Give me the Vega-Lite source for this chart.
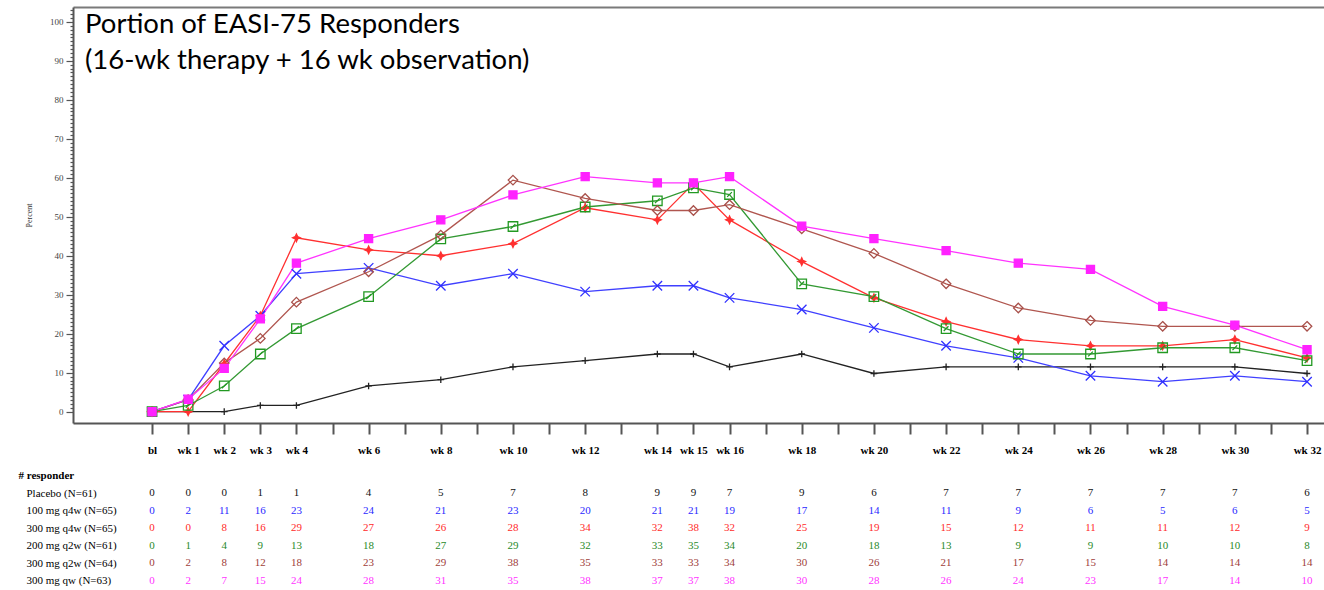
{
  "$schema": "https://vega.github.io/schema/vega-lite/v6.json",
  "padding": {"left": 18, "top": 6, "right": 0, "bottom": 0},
  "background": "white",
  "bounds": "flush",
  "spacing": 44,
  "config": {"view": {"stroke": null}, "font": "Liberation Serif"},
  "resolve": {"scale": {"x": "independent", "y": "independent", "color": "independent"}},
  "datasets": {
    "resp": [
      {"week":0,"group":"Placebo (N=61)","n":0,"pct":0},
      {"week":1,"group":"Placebo (N=61)","n":0,"pct":0},
      {"week":2,"group":"Placebo (N=61)","n":0,"pct":0},
      {"week":3,"group":"Placebo (N=61)","n":1,"pct":1.6},
      {"week":4,"group":"Placebo (N=61)","n":1,"pct":1.6},
      {"week":6,"group":"Placebo (N=61)","n":4,"pct":6.6},
      {"week":8,"group":"Placebo (N=61)","n":5,"pct":8.2},
      {"week":10,"group":"Placebo (N=61)","n":7,"pct":11.5},
      {"week":12,"group":"Placebo (N=61)","n":8,"pct":13.1},
      {"week":14,"group":"Placebo (N=61)","n":9,"pct":14.8},
      {"week":15,"group":"Placebo (N=61)","n":9,"pct":14.8},
      {"week":16,"group":"Placebo (N=61)","n":7,"pct":11.5},
      {"week":18,"group":"Placebo (N=61)","n":9,"pct":14.8},
      {"week":20,"group":"Placebo (N=61)","n":6,"pct":9.8},
      {"week":22,"group":"Placebo (N=61)","n":7,"pct":11.5},
      {"week":24,"group":"Placebo (N=61)","n":7,"pct":11.5},
      {"week":26,"group":"Placebo (N=61)","n":7,"pct":11.5},
      {"week":28,"group":"Placebo (N=61)","n":7,"pct":11.5},
      {"week":30,"group":"Placebo (N=61)","n":7,"pct":11.5},
      {"week":32,"group":"Placebo (N=61)","n":6,"pct":9.8},

      {"week":0,"group":"100 mg q4w (N=65)","n":0,"pct":0},
      {"week":1,"group":"100 mg q4w (N=65)","n":2,"pct":3.1},
      {"week":2,"group":"100 mg q4w (N=65)","n":11,"pct":16.9},
      {"week":3,"group":"100 mg q4w (N=65)","n":16,"pct":24.6},
      {"week":4,"group":"100 mg q4w (N=65)","n":23,"pct":35.4},
      {"week":6,"group":"100 mg q4w (N=65)","n":24,"pct":36.9},
      {"week":8,"group":"100 mg q4w (N=65)","n":21,"pct":32.3},
      {"week":10,"group":"100 mg q4w (N=65)","n":23,"pct":35.4},
      {"week":12,"group":"100 mg q4w (N=65)","n":20,"pct":30.8},
      {"week":14,"group":"100 mg q4w (N=65)","n":21,"pct":32.3},
      {"week":15,"group":"100 mg q4w (N=65)","n":21,"pct":32.3},
      {"week":16,"group":"100 mg q4w (N=65)","n":19,"pct":29.2},
      {"week":18,"group":"100 mg q4w (N=65)","n":17,"pct":26.2},
      {"week":20,"group":"100 mg q4w (N=65)","n":14,"pct":21.5},
      {"week":22,"group":"100 mg q4w (N=65)","n":11,"pct":16.9},
      {"week":24,"group":"100 mg q4w (N=65)","n":9,"pct":13.8},
      {"week":26,"group":"100 mg q4w (N=65)","n":6,"pct":9.2},
      {"week":28,"group":"100 mg q4w (N=65)","n":5,"pct":7.7},
      {"week":30,"group":"100 mg q4w (N=65)","n":6,"pct":9.2},
      {"week":32,"group":"100 mg q4w (N=65)","n":5,"pct":7.7},

      {"week":0,"group":"300 mg q4w (N=65)","n":0,"pct":0},
      {"week":1,"group":"300 mg q4w (N=65)","n":0,"pct":0},
      {"week":2,"group":"300 mg q4w (N=65)","n":8,"pct":12.3},
      {"week":3,"group":"300 mg q4w (N=65)","n":16,"pct":24.6},
      {"week":4,"group":"300 mg q4w (N=65)","n":29,"pct":44.6},
      {"week":6,"group":"300 mg q4w (N=65)","n":27,"pct":41.5},
      {"week":8,"group":"300 mg q4w (N=65)","n":26,"pct":40.0},
      {"week":10,"group":"300 mg q4w (N=65)","n":28,"pct":43.1},
      {"week":12,"group":"300 mg q4w (N=65)","n":34,"pct":52.3},
      {"week":14,"group":"300 mg q4w (N=65)","n":32,"pct":49.2},
      {"week":15,"group":"300 mg q4w (N=65)","n":38,"pct":58.5},
      {"week":16,"group":"300 mg q4w (N=65)","n":32,"pct":49.2},
      {"week":18,"group":"300 mg q4w (N=65)","n":25,"pct":38.5},
      {"week":20,"group":"300 mg q4w (N=65)","n":19,"pct":29.2},
      {"week":22,"group":"300 mg q4w (N=65)","n":15,"pct":23.1},
      {"week":24,"group":"300 mg q4w (N=65)","n":12,"pct":18.5},
      {"week":26,"group":"300 mg q4w (N=65)","n":11,"pct":16.9},
      {"week":28,"group":"300 mg q4w (N=65)","n":11,"pct":16.9},
      {"week":30,"group":"300 mg q4w (N=65)","n":12,"pct":18.5},
      {"week":32,"group":"300 mg q4w (N=65)","n":9,"pct":13.8},

      {"week":0,"group":"200 mg q2w (N=61)","n":0,"pct":0},
      {"week":1,"group":"200 mg q2w (N=61)","n":1,"pct":1.6},
      {"week":2,"group":"200 mg q2w (N=61)","n":4,"pct":6.6},
      {"week":3,"group":"200 mg q2w (N=61)","n":9,"pct":14.8},
      {"week":4,"group":"200 mg q2w (N=61)","n":13,"pct":21.3},
      {"week":6,"group":"200 mg q2w (N=61)","n":18,"pct":29.5},
      {"week":8,"group":"200 mg q2w (N=61)","n":27,"pct":44.3},
      {"week":10,"group":"200 mg q2w (N=61)","n":29,"pct":47.5},
      {"week":12,"group":"200 mg q2w (N=61)","n":32,"pct":52.5},
      {"week":14,"group":"200 mg q2w (N=61)","n":33,"pct":54.1},
      {"week":15,"group":"200 mg q2w (N=61)","n":35,"pct":57.4},
      {"week":16,"group":"200 mg q2w (N=61)","n":34,"pct":55.7},
      {"week":18,"group":"200 mg q2w (N=61)","n":20,"pct":32.8},
      {"week":20,"group":"200 mg q2w (N=61)","n":18,"pct":29.5},
      {"week":22,"group":"200 mg q2w (N=61)","n":13,"pct":21.3},
      {"week":24,"group":"200 mg q2w (N=61)","n":9,"pct":14.8},
      {"week":26,"group":"200 mg q2w (N=61)","n":9,"pct":14.8},
      {"week":28,"group":"200 mg q2w (N=61)","n":10,"pct":16.4},
      {"week":30,"group":"200 mg q2w (N=61)","n":10,"pct":16.4},
      {"week":32,"group":"200 mg q2w (N=61)","n":8,"pct":13.1},

      {"week":0,"group":"300 mg q2w (N=64)","n":0,"pct":0},
      {"week":1,"group":"300 mg q2w (N=64)","n":2,"pct":3.1},
      {"week":2,"group":"300 mg q2w (N=64)","n":8,"pct":12.5},
      {"week":3,"group":"300 mg q2w (N=64)","n":12,"pct":18.8},
      {"week":4,"group":"300 mg q2w (N=64)","n":18,"pct":28.1},
      {"week":6,"group":"300 mg q2w (N=64)","n":23,"pct":35.9},
      {"week":8,"group":"300 mg q2w (N=64)","n":29,"pct":45.3},
      {"week":10,"group":"300 mg q2w (N=64)","n":38,"pct":59.4},
      {"week":12,"group":"300 mg q2w (N=64)","n":35,"pct":54.7},
      {"week":14,"group":"300 mg q2w (N=64)","n":33,"pct":51.6},
      {"week":15,"group":"300 mg q2w (N=64)","n":33,"pct":51.6},
      {"week":16,"group":"300 mg q2w (N=64)","n":34,"pct":53.1},
      {"week":18,"group":"300 mg q2w (N=64)","n":30,"pct":46.9},
      {"week":20,"group":"300 mg q2w (N=64)","n":26,"pct":40.6},
      {"week":22,"group":"300 mg q2w (N=64)","n":21,"pct":32.8},
      {"week":24,"group":"300 mg q2w (N=64)","n":17,"pct":26.6},
      {"week":26,"group":"300 mg q2w (N=64)","n":15,"pct":23.4},
      {"week":28,"group":"300 mg q2w (N=64)","n":14,"pct":21.9},
      {"week":30,"group":"300 mg q2w (N=64)","n":14,"pct":21.9},
      {"week":32,"group":"300 mg q2w (N=64)","n":14,"pct":21.9},

      {"week":0,"group":"300 mg qw (N=63)","n":0,"pct":0},
      {"week":1,"group":"300 mg qw (N=63)","n":2,"pct":3.2},
      {"week":2,"group":"300 mg qw (N=63)","n":7,"pct":11.1},
      {"week":3,"group":"300 mg qw (N=63)","n":15,"pct":23.8},
      {"week":4,"group":"300 mg qw (N=63)","n":24,"pct":38.1},
      {"week":6,"group":"300 mg qw (N=63)","n":28,"pct":44.4},
      {"week":8,"group":"300 mg qw (N=63)","n":31,"pct":49.2},
      {"week":10,"group":"300 mg qw (N=63)","n":35,"pct":55.6},
      {"week":12,"group":"300 mg qw (N=63)","n":38,"pct":60.3},
      {"week":14,"group":"300 mg qw (N=63)","n":37,"pct":58.7},
      {"week":15,"group":"300 mg qw (N=63)","n":37,"pct":58.7},
      {"week":16,"group":"300 mg qw (N=63)","n":38,"pct":60.3},
      {"week":18,"group":"300 mg qw (N=63)","n":30,"pct":47.6},
      {"week":20,"group":"300 mg qw (N=63)","n":28,"pct":44.4},
      {"week":22,"group":"300 mg qw (N=63)","n":26,"pct":41.3},
      {"week":24,"group":"300 mg qw (N=63)","n":24,"pct":38.1},
      {"week":26,"group":"300 mg qw (N=63)","n":23,"pct":36.5},
      {"week":28,"group":"300 mg qw (N=63)","n":17,"pct":27.0},
      {"week":30,"group":"300 mg qw (N=63)","n":14,"pct":22.2},
      {"week":32,"group":"300 mg qw (N=63)","n":10,"pct":15.9}
    ]
  },
  "vconcat": [
    {
      "width": 1251,
      "height": 416,
      "data": {"name": "resp"},
      "title": {"text": ["Portion of EASI-75 Responders", "(16-wk therapy + 16 wk observation)"],
                "anchor": "start", "frame": "group", "orient": "top", "offset": -68, "dx": 12,
                "font": "Lato", "fontSize": 27.5, "fontWeight": "normal", "color": "#000", "lineHeight": 36},
      "resolve": {"axis": {"x": "independent"}},
      "encoding": {
        "y": {"field": "pct", "type": "quantitative",
              "scale": {"domain": [-2.9, 103.8], "nice": false, "zero": false},
              "axis": {"title": "Percent", "grid": false,
                       "values": [0,1,2,3,4,5,6,7,8,9,10,11,12,13,14,15,16,17,18,19,20,21,22,23,24,25,26,27,28,29,30,31,32,33,34,35,36,37,38,39,40,41,42,43,44,45,46,47,48,49,50,51,52,53,54,55,56,57,58,59,60,61,62,63,64,65,66,67,68,69,70,71,72,73,74,75,76,77,78,79,80,81,82,83,84,85,86,87,88,89,90,91,92,93,94,95,96,97,98,99,100,101,102,103],
                       "labelExpr": "datum.value % 10 === 0 ? datum.label : ''",
                       "labelOverlap": false, "labelFlush": false, "labelBound": false,
                       "tickSize": {"condition": {"test": "datum.value % 10 === 0", "value": 7}, "value": 3},
                       "tickColor": "#555", "tickWidth": 1.2,
                       "domainColor": "#555", "domainWidth": 2,
                       "labelFont": "Liberation Serif", "labelFontSize": 9, "labelColor": "#444", "labelPadding": 3,
                       "titleFont": "Liberation Serif", "titleFontSize": 8, "titleFontWeight": "normal",
                       "titleColor": "#333", "titlePadding": 16}}
      },
      "layer": [
        {
          "mark": {"type": "point", "opacity": 0},
          "encoding": {
            "x": {"field": "week", "type": "quantitative",
                  "scale": {"domain": [-2.19, 32.47], "nice": false, "zero": false},
                  "axis": {"orient": "top", "labels": false, "ticks": false, "title": null, "grid": false,
                           "domainColor": "#7a7a7a", "domainWidth": 2}}
          }
        },
        {
          "mark": {"type": "line", "strokeWidth": 1.3},
          "encoding": {
            "x": {"field": "week", "type": "quantitative",
                  "scale": {"domain": [-2.19, 32.47], "nice": false, "zero": false},
                  "axis": {"orient": "bottom", "title": null, "grid": false,
                           "values": [0,1,2,3,4,5,6,7,8,9,10,11,12,13,14,15,16,17,18,19,20,21,22,23,24,25,26,27,28,29,30,31,32],
                           "labelExpr": "datum.value === 0 ? 'bl' : ((datum.value <= 4 || datum.value % 2 === 0 || datum.value === 15) ? 'wk ' + datum.value : '')",
                           "labelOverlap": false, "labelFlush": false,
                           "tickSize": 11, "tickWidth": 2, "tickColor": "#555",
                           "domainColor": "#555", "domainWidth": 2,
                           "labelFont": "Liberation Serif", "labelFontSize": 11, "labelFontWeight": "bold",
                           "labelColor": "#000", "labelPadding": 10}},
            "color": {"field": "group", "type": "nominal",
                      "scale": {"domain": ["Placebo (N=61)", "100 mg q4w (N=65)", "300 mg q4w (N=65)", "200 mg q2w (N=61)", "300 mg q2w (N=64)", "300 mg qw (N=63)"],
                                "range": ["#222222", "#4040ff", "#ff3030", "#339933", "#b0564f", "#ff33ff"]},
                      "legend": null}
          }
        },
        {
          "mark": {"type": "point", "opacity": 1, "strokeWidth": 1.3, "size": 90},
          "encoding": {
            "x": {"field": "week", "type": "quantitative", "axis": null},
            "shape": {"field": "group", "type": "nominal",
                      "scale": {"domain": ["Placebo (N=61)", "100 mg q4w (N=65)", "300 mg q4w (N=65)", "200 mg q2w (N=61)", "300 mg q2w (N=64)", "300 mg qw (N=63)"],
                                "range": ["M-0.7,0H0.7M0,-0.7V0.7",
                                          "M-1,-1L1,1M-1,1L1,-1",
                                          "M0,-0.8L0.25,-0.25L0.8,0L0.25,0.25L0,0.8L-0.25,0.25L-0.8,0L-0.25,-0.25Z",
                                          "M-1,-1H1V1H-1ZM-0.5,0.5L0.5,-0.5",
                                          "M0,-1L1,0L0,1L-1,0Z",
                                          "M-0.85,-0.85H0.85V0.85H-0.85Z"]},
                      "legend": null},
            "stroke": {"field": "group", "type": "nominal",
                       "scale": {"domain": ["Placebo (N=61)", "100 mg q4w (N=65)", "300 mg q4w (N=65)", "200 mg q2w (N=61)", "300 mg q2w (N=64)", "300 mg qw (N=63)"],
                                 "range": ["#222222", "#3030ff", "#ff3030", "#229922", "#a8504a", "#ff22ff"]},
                       "legend": null},
            "fill": {"field": "group", "type": "nominal",
                     "scale": {"domain": ["Placebo (N=61)", "100 mg q4w (N=65)", "300 mg q4w (N=65)", "200 mg q2w (N=61)", "300 mg q2w (N=64)", "300 mg qw (N=63)"],
                               "range": ["transparent", "transparent", "#ff3030", "transparent", "transparent", "#ff22ff"]},
                     "legend": null}
          }
        }
      ]
    },
    {
      "width": 1251,
      "height": {"step": 17.5},
      "data": {"name": "resp"},
      "mark": {"type": "text", "font": "Liberation Serif", "fontSize": 11, "baseline": "middle", "align": "center"},
      "encoding": {
        "x": {"field": "week", "type": "quantitative",
              "scale": {"domain": [-2.19, 32.47], "nice": false, "zero": false}, "axis": null},
        "y": {"field": "group", "type": "nominal",
              "scale": {"domain": ["# responder", "Placebo (N=61)", "100 mg q4w (N=65)", "300 mg q4w (N=65)", "200 mg q2w (N=61)", "300 mg q2w (N=64)", "300 mg qw (N=63)"]},
              "axis": {"title": null, "domain": false, "ticks": false, "tickSize": 0, "grid": false,
                       "labelAlign": "left", "labelBaseline": "middle",
                       "labelPadding": {"condition": {"test": "datum.value === '# responder'", "value": 55}, "value": 47},
                       "labelFont": "Liberation Serif", "labelFontSize": 11, "labelColor": "#000",
                       "labelFontWeight": {"condition": {"test": "datum.value === '# responder'", "value": "bold"}, "value": "normal"}}},
        "text": {"field": "n", "type": "quantitative"},
        "color": {"field": "group", "type": "nominal",
                  "scale": {"domain": ["Placebo (N=61)", "100 mg q4w (N=65)", "300 mg q4w (N=65)", "200 mg q2w (N=61)", "300 mg q2w (N=64)", "300 mg qw (N=63)"],
                            "range": ["#111111", "#2a2aff", "#ff2a2a", "#2a8a2a", "#a0403a", "#ff33ff"]},
                  "legend": null}
      }
    }
  ]
}
